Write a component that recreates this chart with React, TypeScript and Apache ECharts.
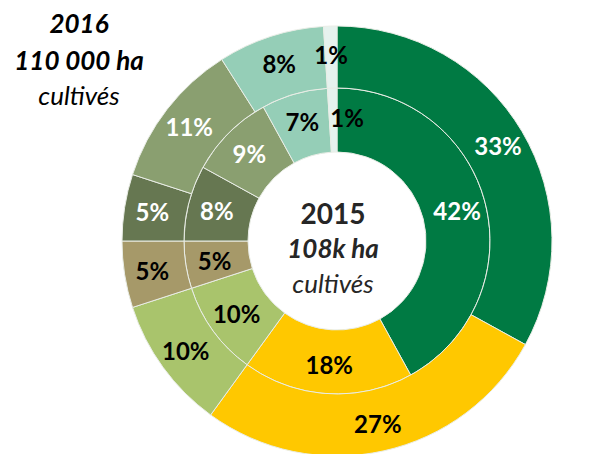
import React, { useEffect, useRef } from "react";
import * as echarts from "echarts";

const categories = ["A", "B", "C", "D", "E", "F", "G", "H"];
const values2015 = [42, 18, 10, 5, 8, 9, 7, 1];
const values2016 = [33, 27, 10, 5, 5, 11, 8, 1];
const colors = ["#007A43", "#FFC800", "#A9C46C", "#A69969", "#667751", "#8A9F70", "#95CEB7", "#E6F2EE"];
const labelColors2015 = ["#fff", "#000", "#000", "#000", "#fff", "#fff", "#000", "#000"];
const labelColors2016 = ["#fff", "#000", "#000", "#000", "#fff", "#fff", "#000", "#000"];

const FONT = "Lato, 'Open Sans', sans-serif";

export default function App() {
  const ref = useRef<HTMLDivElement>(null);
  useEffect(() => {
    if (!ref.current) return;
    const chart = echarts.init(ref.current, null, { renderer: "svg" });
    const mk = (vals: number[], lc: string[], offsets?: Record<number, number[]>) =>
      vals.map((v, i) => ({
        name: categories[i],
        value: v,
        itemStyle: { color: colors[i] },
        label: {
          color: lc[i],
          ...(offsets && offsets[i] ? { offset: offsets[i] } : {}),
        },
      }));
    const labelBase = {
      show: true,
      position: "inside",
      formatter: "{c}%",
      fontFamily: FONT,
      fontWeight: "bold",
      fontSize: 24,
    };
    chart.setOption({
      animation: false,
      backgroundColor: "#ffffff",
      series: [
        {
          type: "pie",
          center: [337, 241],
          radius: [89, 153],
          startAngle: 90,
          clockwise: true,
          avoidLabelOverlap: false,
          label: labelBase,
          labelLine: { show: false },
          itemStyle: { borderColor: "#e9ede6", borderWidth: 1 },
          emphasis: { disabled: true },
          data: mk(values2015, labelColors2015, { 7: [14, 0] }),
        },
        {
          type: "pie",
          center: [337, 241],
          radius: [153, 215],
          startAngle: 90,
          clockwise: true,
          avoidLabelOverlap: false,
          label: labelBase,
          labelLine: { show: false },
          itemStyle: { borderColor: "#e9ede6", borderWidth: 1 },
          emphasis: { disabled: true },
          data: mk(values2016, labelColors2016),
        },
      ],
      graphic: [
        {
          type: "text",
          x: 79,
          y: 23,
          style: { text: "2016", fill: "#000", font: `italic bold 26px ${FONT}`, align: "center", verticalAlign: "middle" },
        },
        {
          type: "text",
          x: 79,
          y: 60,
          style: { text: "110 000 ha", fill: "#000", font: `italic bold 26px ${FONT}`, align: "center", verticalAlign: "middle" },
        },
        {
          type: "text",
          x: 79,
          y: 95,
          style: { text: "cultivés", fill: "#000", font: `italic 26px ${FONT}`, align: "center", verticalAlign: "middle" },
        },
        {
          type: "text",
          x: 333,
          y: 213,
          style: { text: "2015", fill: "#262626", font: `bold 28px ${FONT}`, align: "center", verticalAlign: "middle" },
        },
        {
          type: "text",
          x: 333,
          y: 248,
          style: { text: "108k ha", fill: "#262626", font: `italic bold 26px ${FONT}`, align: "center", verticalAlign: "middle" },
        },
        {
          type: "text",
          x: 333,
          y: 283,
          style: { text: "cultivés", fill: "#262626", font: `italic 26px ${FONT}`, align: "center", verticalAlign: "middle" },
        },
      ],
    });
    return () => chart.dispose();
  }, []);
  return (
    <div
      ref={ref}
      style={{ position: "fixed", left: 0, top: 0, width: 592, height: 454 }}
    />
  );
}
